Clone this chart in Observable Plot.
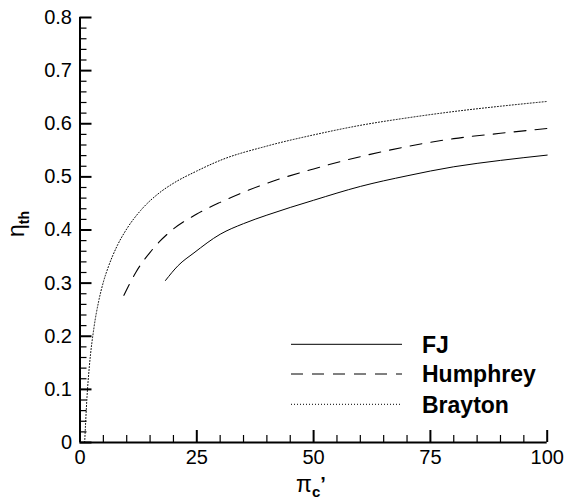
<!DOCTYPE html>
<html>
<head>
<meta charset="utf-8">
<script src="https://cdn.jsdelivr.net/npm/d3@7"></script>
<script src="https://cdn.jsdelivr.net/npm/@observablehq/plot@0.6"></script>
<style>
  body { margin: 0; background: white; }
</style>
</head>
<body>
<div id="chart"></div>
<script>
// ---- data ----
const seriesNames = ["FJ", "Humphrey", "Brayton"];

const fjPi  = [18.3, 21, 24.4, 30, 35, 40, 50, 60, 70, 80, 90, 100];
const fjEta = [0.305, 0.333, 0.357, 0.392, 0.412, 0.428, 0.456, 0.482, 0.502, 0.519, 0.531, 0.541];

const humPi  = [9.4, 12, 15, 17, 20, 25, 30, 40, 50, 60, 70, 80, 90, 100];
const humEta = [0.277, 0.321, 0.358, 0.378, 0.402, 0.430, 0.452, 0.488, 0.515, 0.538, 0.557, 0.572, 0.582, 0.591];

const brPi  = [1, 1.5, 2, 3, 4, 5, 6, 8, 10, 13, 17, 20, 25, 30, 40, 50, 60, 70, 80, 90, 100];
const brEta = [0, 0.086, 0.143, 0.217, 0.266, 0.302, 0.329, 0.371, 0.402, 0.437, 0.470, 0.488, 0.511, 0.531, 0.558, 0.579, 0.597, 0.611, 0.623, 0.633, 0.642];

const xTicks = [0, 25, 50, 75, 100];
const yTicks = [0, 0.1, 0.2, 0.3, 0.4, 0.5, 0.6, 0.7, 0.8];
const xMinor = d3.range(0, 100.001, 5).filter(v => !xTicks.includes(v));
const yMinor = d3.range(0, 0.8001, 0.02).filter(v => !yTicks.some(t => Math.abs(t - v) < 1e-6));

const toRows = (xs, ys) => xs.map((x, i) => ({x, y: ys[i]}));
const fj = toRows(fjPi, fjEta);
const hum = toRows(humPi, humEta);
const br = toRows(brPi, brEta);

// ---- layout ----
const W = 566, H = 502;
const mL = 79.5, mR = 19.3, mT = 17, mB = 60;
const innerW = W - mL - mR, innerH = H - mT - mB;

const dashes = [null, "12,9", "1,2"];
const font = "'Liberation Sans', Arial, sans-serif";

const svg = Plot.plot({
  width: W, height: H,
  marginLeft: mL, marginRight: mR, marginTop: mT, marginBottom: mB,
  x: {domain: [0, 100]},
  y: {domain: [0, 0.8]},
  style: {fontFamily: font, fontSize: "20px", background: "white"},
  marks: [
    Plot.axisX(xTicks, {tickSize: 0, tickPadding: 7, label: null}),
    Plot.axisY(yTicks, {tickSize: 0, tickPadding: 8, label: null, tickFormat: d3.format("~g")}),
    // inward ticks
    Plot.tickX(xMinor, {x: d => d, insetTop: innerH - 7, stroke: "black", strokeWidth: 1.2}),
    Plot.tickX(xTicks, {x: d => d, insetTop: innerH - 12, stroke: "black", strokeWidth: 2}),
    Plot.tickY(yMinor, {y: d => d, insetRight: innerW - 7, stroke: "black", strokeWidth: 1.2}),
    Plot.tickY(yTicks, {y: d => d, insetRight: innerW - 12, stroke: "black", strokeWidth: 2}),
    // curves
    Plot.line(fj, {x: "x", y: "y", stroke: "black", strokeWidth: 1, curve: "monotone-x"}),
    Plot.line(hum, {x: "x", y: "y", stroke: "black", strokeWidth: 1.1, strokeDasharray: dashes[1], curve: "monotone-x"}),
    Plot.line(br, {x: "x", y: "y", stroke: "black", strokeWidth: 1, strokeDasharray: dashes[2], curve: "monotone-x"}),
    // axis lines
    Plot.ruleX([0], {stroke: "black", strokeWidth: 2}),
    Plot.ruleY([0], {stroke: "black", strokeWidth: 2})
  ]
});

document.getElementById("chart").appendChild(svg);

const s = d3.select(svg);

// y label: eta_th
const yl = s.append("text")
  .attr("transform", "translate(24,224) rotate(-90)")
  .attr("text-anchor", "middle")
  .attr("font-family", font)
  .attr("fill", "black");
yl.append("tspan").attr("font-size", 23).text("η");
yl.append("tspan").attr("font-size", 14).attr("font-weight", "bold").attr("dy", 5).text("th");

// x label: pi_c'
const xl = s.append("text")
  .attr("x", 311).attr("y", 492)
  .attr("text-anchor", "middle")
  .attr("font-family", font)
  .attr("fill", "black");
xl.append("tspan").attr("font-size", 23).text("π");
xl.append("tspan").attr("font-size", 15).attr("font-weight", "bold").attr("dy", 5).text("c");
xl.append("tspan").attr("font-size", 20).attr("font-weight", "bold").attr("dy", -6).text("’");

// legend
const lg = s.append("g");
const legY = [344.3, 374, 404.3];
seriesNames.forEach((name, i) => {
  lg.append("line")
    .attr("x1", 291).attr("x2", 402)
    .attr("y1", legY[i]).attr("y2", legY[i])
    .attr("stroke", "black").attr("stroke-width", 1)
    .attr("stroke-dasharray", dashes[i]);
  lg.append("text")
    .attr("x", 422).attr("y", legY[i])
    .attr("dy", "0.36em")
    .attr("text-anchor", "start")
    .attr("font-family", font)
    .attr("font-size", 23)
    .attr("font-weight", "bold")
    .attr("fill", "black")
    .text(name);
});
</script>
</body>
</html>
